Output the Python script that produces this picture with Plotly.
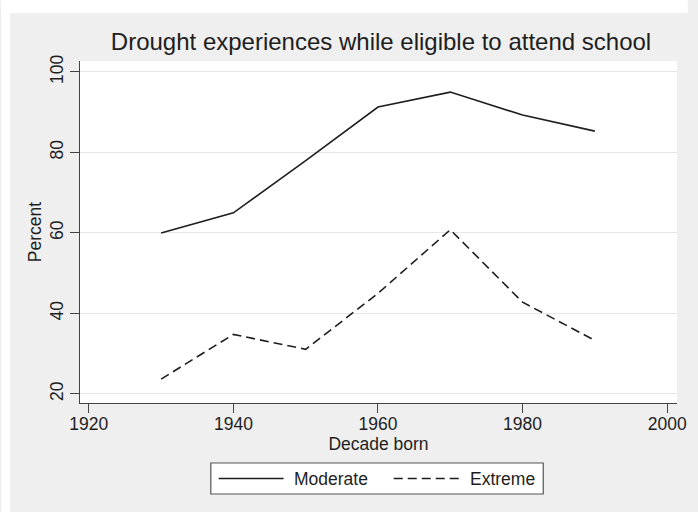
import plotly.graph_objects as go

# Share of people who experienced drought while of school age, by decade of birth
decades = [1930, 1940, 1950, 1960, 1970, 1980, 1990]
moderate = [60.0, 65.0, 78.0, 91.3, 95.0, 89.3, 85.3]
extreme = [23.7, 34.8, 31.1, 45.0, 60.8, 42.8, 33.3]

series_names = ["Moderate", "Extreme"]
x_ticks = [1920, 1940, 1960, 1980, 2000]
y_ticks = [20, 40, 60, 80, 100]

W, H = 698, 512
ML, MR, MT, MB = 80, 11, 61, 109
PW, PH = W - ML - MR, H - MT - MB

FONT = "Liberation Sans, Arial, sans-serif"
INK = "#1e1e1e"
PAPER = "#efefef"
TXT = 17.5


def px(xp):
    return (xp - ML) / PW


def py(yp):
    return 1 - (yp - MT) / PH


fig = go.Figure()
fig.add_trace(go.Scatter(
    x=decades, y=moderate, mode="lines", name=series_names[0],
    line=dict(color=INK, width=1.6), showlegend=False))
fig.add_trace(go.Scatter(
    x=decades, y=extreme, mode="lines", name=series_names[1],
    line=dict(color=INK, width=1.6, dash="9px,5px"), showlegend=False))

shapes = [
    # white strips framing the grey page area
    dict(type="rect", xref="paper", yref="paper", x0=px(0), x1=px(9),
         y0=py(H), y1=py(0), fillcolor="white", line=dict(width=0), layer="below"),
    dict(type="rect", xref="paper", yref="paper", x0=px(0), x1=px(W),
         y0=py(13), y1=py(0), fillcolor="white", line=dict(width=0), layer="below"),
    # legend box
    dict(type="rect", xref="paper", yref="paper", x0=px(213), x1=px(551),
         y0=py(494), y1=py(463), fillcolor="white",
         line=dict(color="#555555", width=1.2)),
    # legend keys
    dict(type="line", xref="paper", yref="paper", x0=px(221), x1=px(287),
         y0=py(478.5), y1=py(478.5), line=dict(color=INK, width=1.6)),
    dict(type="line", xref="paper", yref="paper", x0=px(399), x1=px(468),
         y0=py(478.5), y1=py(478.5), line=dict(color=INK, width=1.6, dash="9px,5px")),
]

annotations = [
    dict(text=series_names[0], xref="paper", yref="paper", x=px(296), y=py(478.5),
         xanchor="left", yanchor="middle", showarrow=False,
         font=dict(family=FONT, size=TXT, color=INK)),
    dict(text=series_names[1], xref="paper", yref="paper", x=px(475), y=py(478.5),
         xanchor="left", yanchor="middle", showarrow=False,
         font=dict(family=FONT, size=TXT, color=INK)),
]

fig.update_layout(
    width=W, height=H,
    margin=dict(l=ML, r=MR, t=MT, b=MB, pad=0),
    paper_bgcolor=PAPER, plot_bgcolor="white",
    title=dict(text="Drought experiences while eligible to attend school",
               xref="container", yref="container",
               x=381 / W, xanchor="center", y=1 - 42 / H, yanchor="middle",
               font=dict(family=FONT, size=24, color=INK)),
    shapes=shapes, annotations=annotations,
    showlegend=False,
)

fig.update_xaxes(
    range=[1918.78, 2001.36], tickvals=x_ticks, ticks="outside", ticklen=9,
    tickcolor="#444444", showline=True, linecolor="#444444", linewidth=1,
    showgrid=False, zeroline=False, ticklabelstandoff=-4,
    tickfont=dict(family=FONT, size=TXT, color=INK),
    title=dict(text="Decade born", font=dict(family=FONT, size=TXT, color=INK), standoff=0),
)
fig.update_yaxes(
    range=[17.76, 102.73], tickvals=y_ticks, ticks="outside", ticklen=9,
    tickcolor="#444444", showline=True, linecolor="#444444", linewidth=1,
    showgrid=True, gridcolor="#e6e6e6", gridwidth=1, zeroline=False,
    tickangle=-90, tickfont=dict(family=FONT, size=TXT, color=INK),
    title=dict(text="Percent", font=dict(family=FONT, size=TXT, color=INK), standoff=0),
)

fig.write_html("out.html")
